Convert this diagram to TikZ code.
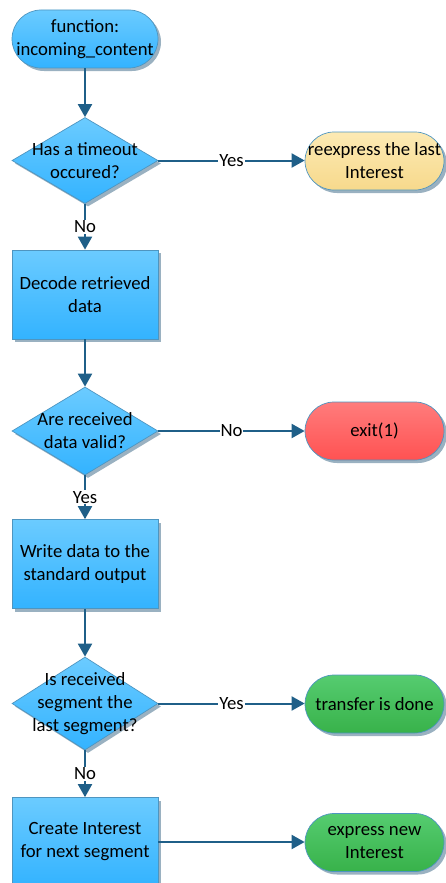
\documentclass[tikz,border=0pt]{standalone}
\usepackage{fontspec}
\setmainfont{Carlito}
\usetikzlibrary{arrows.meta,shapes.geometric,shadows}

\definecolor{boxtop}{HTML}{6BCBFF}
\definecolor{boxbot}{HTML}{33B3FF}
\definecolor{boxline}{HTML}{4E95C0}
\definecolor{flow}{HTML}{1F5F88}
\definecolor{shade}{HTML}{8FA9BA}
\definecolor{yeltop}{HTML}{FCEAB4}
\definecolor{yelbot}{HTML}{F7D98C}
\definecolor{redtop}{HTML}{FF7C7C}
\definecolor{redbot}{HTML}{FF5252}
\definecolor{grntop}{HTML}{55CC70}
\definecolor{grnbot}{HTML}{38B24A}

\tikzset{
  txt/.style={font=\fontsize{18.7}{23}\selectfont},
  base/.style={draw=boxline, line width=0.7pt, inner sep=0pt, align=center, txt,
    drop shadow={shadow xshift=3pt, shadow yshift=-3pt, fill=shade, opacity=0.9}},
  bluefill/.style={top color=boxtop, bottom color=boxbot},
  terminal/.style={base, rectangle, rounded corners=29pt, minimum width=146pt, minimum height=58pt},
  endterm/.style={base, rectangle, rounded corners=29pt, minimum width=139pt, minimum height=58pt},
  process/.style={base, bluefill, rectangle, minimum width=146pt, minimum height=89pt},
  decision/.style={base, bluefill, diamond, minimum width=146pt, minimum height=#1, aspect=1.7},
  qtext/.style={align=center, txt},
  flowline/.style={draw=flow, line width=2pt, -{Triangle[length=13pt,width=14pt]}},
  tag/.style={fill=white, inner sep=1pt, txt}
}

\begin{document}
\begin{tikzpicture}[x=1pt,y=-1pt]
\useasboundingbox (0,0) rectangle (446,883);
\clip (0,0) rectangle (446,883);

% main column
\node[terminal, bluefill] (start) at (85,39) {function:\\incoming\_content};
\node[decision=86pt, label={[qtext]center:Has a timeout\\occured?}] (timeout) at (85,160.5) {};
\node[process] (decode) at (85,294.5) {Decode retrieved\\data};
\node[decision=88pt, label={[qtext]center:Are received\\data valid?}] (valid) at (85,431) {};
\node[process] (write) at (85,564) {Write data to the\\standard output};
\node[decision=93pt, label={[qtext]center:Is received\\segment the\\last segment?}] (last) at (85,703.5) {};
\node[process] (create) at (85,842) {Create Interest\\for next segment};

% outcomes on the right
\node[endterm, top color=yeltop, bottom color=yelbot] (reexpress) at (374.5,161) {reexpress the last\\Interest};
\node[endterm, top color=redtop, bottom color=redbot] (exit) at (374.5,431) {exit(1)};
\node[endterm, top color=grntop, bottom color=grnbot] (done) at (374.5,704) {transfer is done};
\node[endterm, top color=grntop, bottom color=grnbot] (express) at (374.5,842.5) {express new\\Interest};

% connectors
\draw[flowline] (start) -- (timeout);
\draw[flowline] (timeout.east) -- node[tag] {Yes} (timeout.east -| reexpress.west);
\draw[flowline] (timeout) -- node[tag] {No} (decode);
\draw[flowline] (decode) -- (valid);
\draw[flowline] (valid.east) -- node[tag] {No} (exit.west);
\draw[flowline] (valid) -- node[tag] {Yes} (write);
\draw[flowline] (write) -- (last);
\draw[flowline] (last.east) -- node[tag] {Yes} (last.east -| done.west);
\draw[flowline] (last) -- node[tag] {No} (create);
\draw[flowline] (create.east) -- (create.east -| express.west);
\end{tikzpicture}
\end{document}
